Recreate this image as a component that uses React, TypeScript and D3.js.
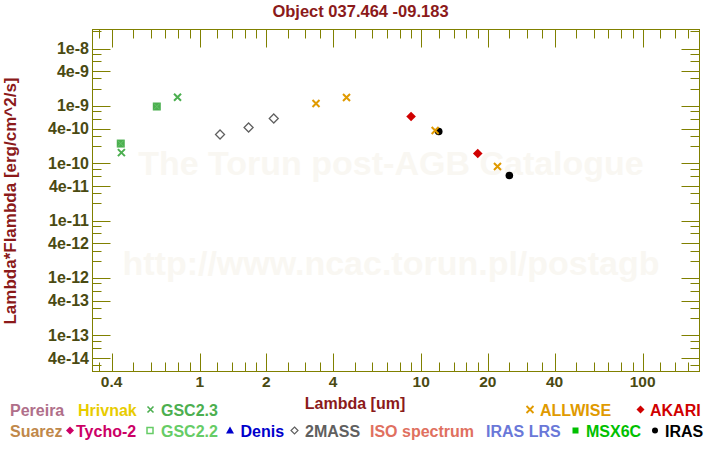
import React from "react";
import * as d3 from "d3";

// ---------- data ----------
const gsc22Wl = [0.44, 0.64];
const gsc22Flux = [2.2e-10, 9.74e-10];
const gsc23Wl = [0.443, 0.794];
const gsc23Flux = [1.53e-10, 1.415e-9];
const twomassWl = [1.235, 1.662, 2.159];
const twomassFlux = [3.16e-10, 4.19e-10, 6.01e-10];
const allwiseWl = [3.35, 4.6, 11.56, 22.1];
const allwiseFlux = [1.1e-9, 1.4e-9, 3.72e-10, 8.75e-11];
const akariWl = [9, 18];
const akariFlux = [6.52e-10, 1.476e-10];
const irasWl = [12, 25];
const irasFlux = [3.57e-10, 6.09e-11];

// ---------- ticks ----------
const xMajor = [0.4, 1, 2, 4, 10, 20, 40, 100];
const xMajorLabels = ["0.4", "1", "2", "4", "10", "20", "40", "100"];
const xMinor = [0.35, 0.5, 0.6, 0.7, 0.8, 0.9, 1.2, 1.4, 1.6, 1.8, 2.5, 3, 3.5, 5, 6, 7, 8, 9,
  12, 14, 16, 18, 25, 30, 35, 50, 60, 70, 80, 90, 120, 140, 160];
const yMajor = [1e-8, 4e-9, 1e-9, 4e-10, 1e-10, 4e-11, 1e-11, 4e-12, 1e-12, 4e-13, 1e-13, 4e-14];
const yMajorLabels = ["1e-8", "4e-9", "1e-9", "4e-10", "1e-10", "4e-11", "1e-11", "4e-12", "1e-12", "4e-13", "1e-13", "4e-14"];
const yMinorMantissa = [2, 3, 6, 8];
const yMinorExp = [-14, -13, -12, -11, -10, -9, -8];

const FONT = "'Liberation Sans', Arial, Helvetica, sans-serif";
const AXIS = "#808000";
const TICKTXT = "#4a4a12";
const TITLE = "#8b1a1a";
const WATER = "#f9f7f2";

const L = 92.5, R = 699.5, T = 29.5, B = 371.5;

export default function App() {
  const x = d3.scaleLog().domain([0.328, 180.5]).range([L, R]);
  const y = d3.scaleLog().domain([2.33e-14, 2.145e-8]).range([B, T]);

  const yMinor: number[] = [];
  yMinorExp.forEach((e) => yMinorMantissa.forEach((m) => {
    const v = m * Math.pow(10, e);
    if (v > 2.33e-14 && v < 2.145e-8) yMinor.push(v);
  }));

  const cross = (cx: number, cy: number, s: number) =>
    `M${cx - s},${cy - s}L${cx + s},${cy + s}M${cx - s},${cy + s}L${cx + s},${cy - s}`;
  const diamond = (cx: number, cy: number, s: number) =>
    `M${cx},${cy - s}L${cx + s},${cy}L${cx},${cy + s}L${cx - s},${cy}Z`;

  const MAJ = 18, MIN = 9;

  const legendText = (xx: number, yy: number, txt: string, color: string) => (
    <text x={xx} y={yy} fill={color} fontSize={16} fontWeight="bold" fontFamily={FONT}>{txt}</text>
  );

  const r1 = 415.5, r2 = 436.5;

  return (
    <svg width={720} height={450} style={{ position: "absolute", left: 0, top: 0, background: "#fff" }}>
      <rect x={0} y={0} width={720} height={450} fill="#fff" />
      {/* watermark */}
      <text x={391} y={175} textAnchor="middle" fontSize={34} fontWeight="bold" fontFamily={FONT} fill={WATER}>The Torun post-AGB Catalogue</text>
      <text x={391} y={275} textAnchor="middle" fontSize={34} fontWeight="bold" fontFamily={FONT} fill={WATER}>http://www.ncac.torun.pl/postagb</text>

      {/* title */}
      <text x={360.5} y={17} textAnchor="middle" fontSize={16.5} fontWeight="bold" fontFamily={FONT} fill={TITLE}>Object 037.464 -09.183</text>

      {/* frame */}
      <rect x={L} y={T} width={R - L} height={B - T} fill="none" stroke={AXIS} strokeWidth={1} />

      {/* x ticks */}
      {xMajor.map((v, i) => (
        <g key={"xm" + i}>
          <line x1={Math.round(x(v)) + 0.5} x2={Math.round(x(v)) + 0.5} y1={B} y2={B - MAJ} stroke={AXIS} />
          <line x1={Math.round(x(v)) + 0.5} x2={Math.round(x(v)) + 0.5} y1={T} y2={T + MAJ} stroke={AXIS} />
          <text x={x(v)} y={387} textAnchor="middle" fontSize={15.5} fontWeight="bold" fontFamily={FONT} fill={TICKTXT}>{xMajorLabels[i]}</text>
        </g>
      ))}
      {xMinor.map((v, i) => (
        <g key={"xn" + i}>
          <line x1={Math.round(x(v)) + 0.5} x2={Math.round(x(v)) + 0.5} y1={B} y2={B - MIN} stroke={AXIS} />
          <line x1={Math.round(x(v)) + 0.5} x2={Math.round(x(v)) + 0.5} y1={T} y2={T + MIN} stroke={AXIS} />
        </g>
      ))}

      {/* y ticks */}
      {yMajor.map((v, i) => (
        <g key={"ym" + i}>
          <line y1={Math.round(y(v)) + 0.5} y2={Math.round(y(v)) + 0.5} x1={L} x2={L + MAJ} stroke={AXIS} />
          <line y1={Math.round(y(v)) + 0.5} y2={Math.round(y(v)) + 0.5} x1={R} x2={R - MAJ} stroke={AXIS} />
          <text x={89} y={y(v) + 5.5} textAnchor="end" fontSize={16} fontWeight="bold" fontFamily={FONT} fill={TICKTXT}>{yMajorLabels[i]}</text>
        </g>
      ))}
      {yMinor.map((v, i) => (
        <g key={"yn" + i}>
          <line y1={Math.round(y(v)) + 0.5} y2={Math.round(y(v)) + 0.5} x1={L} x2={L + MIN} stroke={AXIS} />
          <line y1={Math.round(y(v)) + 0.5} y2={Math.round(y(v)) + 0.5} x1={R} x2={R - MIN} stroke={AXIS} />
        </g>
      ))}

      {/* axis titles */}
      <text x={355} y={409} textAnchor="middle" fontSize={16} fontWeight="bold" fontFamily={FONT} fill={TITLE}>Lambda [um]</text>
      <text transform="translate(16,201) rotate(-90)" textAnchor="middle" fontSize={17} fontWeight="bold" fontFamily={FONT} fill={TITLE}>Lambda*Flambda [erg/cm^2/s]</text>

      {/* data */}
      {gsc22Wl.map((w, i) => (
        <g key={"g22" + i}>
          <rect x={x(w) - 4} y={y(gsc22Flux[i]) - 4} width={8} height={8} fill="#4caf50" />
          <path d={cross(x(w), y(gsc22Flux[i]), 3)} stroke="#66c46a" strokeWidth={1} fill="none" />
        </g>
      ))}
      {gsc23Wl.map((w, i) => (
        <path key={"g23" + i} d={cross(x(w), y(gsc23Flux[i]), 3.5)} stroke="#4caf50" strokeWidth={2} fill="none" />
      ))}
      {twomassWl.map((w, i) => (
        <path key={"2m" + i} d={diamond(x(w), y(twomassFlux[i]), 4.5)} stroke="#606060" strokeWidth={1.3} fill="none" />
      ))}
      {akariWl.map((w, i) => (
        <path key={"ak" + i} d={diamond(x(w), y(akariFlux[i]), 4.8)} fill="#d00000" />
      ))}
      {irasWl.map((w, i) => (
        <circle key={"ir" + i} cx={x(w)} cy={y(irasFlux[i])} r={3.8} fill="#000" />
      ))}
      {allwiseWl.map((w, i) => (
        <path key={"aw" + i} d={cross(x(w), y(allwiseFlux[i]), 3.5)} stroke="#e09a00" strokeWidth={2} fill="none" />
      ))}

      {/* legend row 1 */}
      {legendText(10, r1, "Pereira", "#b06f8a")}
      {legendText(78, r1, "Hrivnak", "#e8cc00")}
      <path d={cross(150.5, r1 - 6, 3)} stroke="#4caf50" strokeWidth={1.6} fill="none" />
      {legendText(161, r1, "GSC2.3", "#4caf50")}
      <path d={cross(530, r1 - 6, 3.5)} stroke="#e09a00" strokeWidth={1.8} fill="none" />
      {legendText(540, r1, "ALLWISE", "#e09a00")}
      <path d={diamond(640.5, r1 - 6, 4)} fill="#d00000" />
      {legendText(650, r1, "AKARI", "#d00000")}

      {/* legend row 2 */}
      {legendText(10, r2, "Suarez", "#c0884a")}
      <path d={diamond(70, r2 - 6, 4)} fill="#cc0066" />
      {legendText(76, r2, "Tycho-2", "#cc0066")}
      <rect x={147} y={r2 - 9} width={6} height={6} fill="none" stroke="#66cc66" strokeWidth={1.5} />
      {legendText(161, r2, "GSC2.2", "#66cc66")}
      <path d={`M230,${r2 - 10}L234,${r2 - 3}L226,${r2 - 3}Z`} fill="#0000cc" />
      {legendText(240.5, r2, "Denis", "#0000cc")}
      <path d={diamond(294.5, r2 - 6, 3.5)} fill="none" stroke="#606060" strokeWidth={1.2} />
      {legendText(305, r2, "2MASS", "#606060")}
      {legendText(370, r2, "ISO spectrum", "#e07060")}
      {legendText(486, r2, "IRAS LRS", "#6a78d8")}
      <rect x={572.5} y={r2 - 9} width={6} height={6} fill="#00c000" />
      {legendText(586, r2, "MSX6C", "#00c000")}
      <circle cx={655} cy={r2 - 6} r={3} fill="#000" />
      {legendText(665, r2, "IRAS", "#000")}
    </svg>
  );
}
